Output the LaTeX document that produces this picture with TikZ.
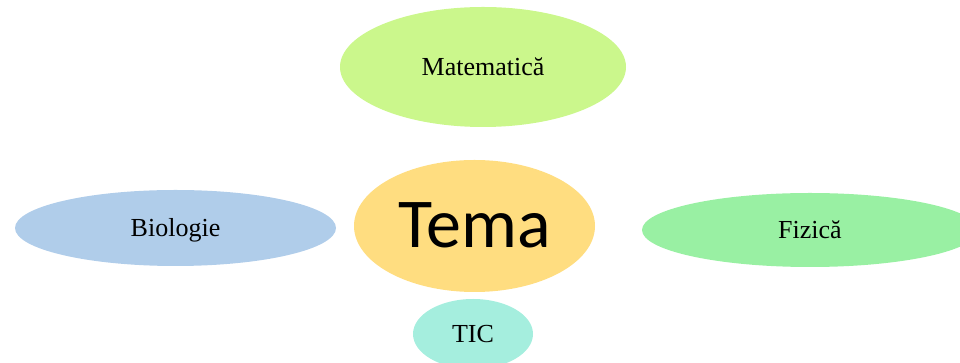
\documentclass[tikz,border=0pt]{standalone}
\usepackage{fontspec}
\setmainfont{Liberation Serif}
\newfontfamily\temafont{Carlito}
\usepackage{tikz}
\usepackage{xcolor}
\usetikzlibrary{shapes.geometric}

\definecolor{matcol}{HTML}{CBF78C}
\definecolor{temacol}{HTML}{FFDD80}
\definecolor{biocol}{HTML}{B0CDEA}
\definecolor{fizcol}{HTML}{99F0A3}
\definecolor{ticcol}{HTML}{A5EEDE}

\begin{document}
\begin{tikzpicture}[x=1pt,y=1pt,
        bubble/.style={ellipse, inner sep=0pt, text height=18pt, text depth=0pt,
                       font=\fontsize{26}{30}\selectfont}]
                \clip (0,0) rectangle (960,363);
                \useasboundingbox (0,0) rectangle (960,363);
                \node[bubble, fill=temacol, minimum width=241pt, minimum height=132pt, text height=44pt,
                      font=\temafont\fontsize{70}{80}\selectfont] (tema) at (474.5,137) {Tema};
                \node[bubble, fill=matcol, minimum width=286pt, minimum height=120pt] (mate) at (483,296) {Matematică};
                \node[bubble, fill=biocol, minimum width=321pt, minimum height=76pt] (bio) at (175.5,135) {Biologie};
                \node[bubble, fill=fizcol, minimum width=336pt, minimum height=74pt] (fiz) at (810,133) {Fizică};
                \node[bubble, fill=ticcol, minimum width=120pt, minimum height=70pt] (tic) at (473,29) {TIC};
            \end{tikzpicture}
\end{document}
